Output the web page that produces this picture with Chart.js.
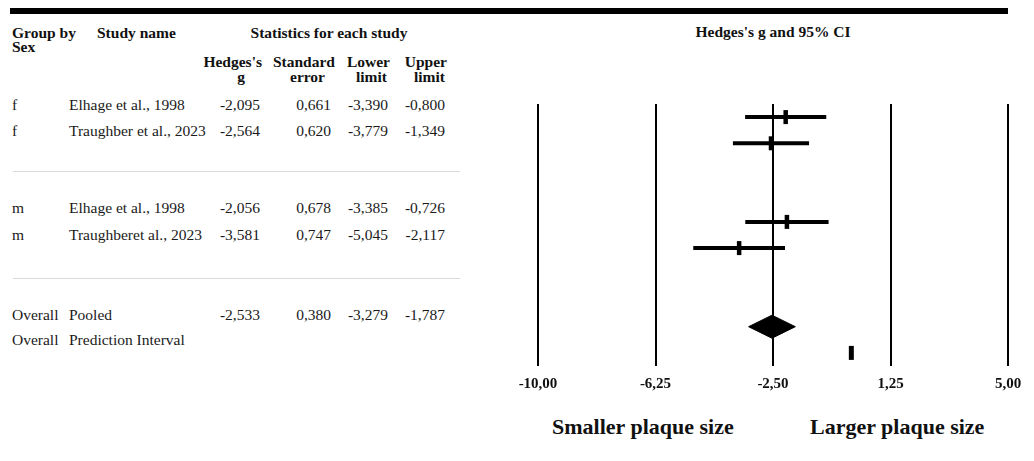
<!DOCTYPE html>
<html><head><meta charset="utf-8">
<script src="https://cdn.jsdelivr.net/npm/chart.js@4/dist/chart.umd.min.js"></script>
<style>
html,body{margin:0;padding:0;background:#fff;}
body{width:1034px;height:461px;position:relative;overflow:hidden;font-family:"Liberation Serif","Times New Roman",serif;color:#1a1a1a;}
.t{position:absolute;white-space:nowrap;font-size:15.5px;line-height:18px;height:18px;}
.b{font-weight:bold;color:#111;}
.sep{position:absolute;left:13px;width:447px;height:1px;background:#d9d9d9;}
#plotWrap{position:absolute;left:500px;top:90px;width:534px;height:306px;}
</style></head><body>
<div style="position:absolute;left:10px;top:8px;width:998px;height:6px;background:#000"></div>
<div id="table"></div>
<div class="sep" style="top:171px"></div>
<div class="sep" style="top:278px"></div>
<div id="plotWrap"><canvas id="c"></canvas></div>
<script>
// ---- data ----
const groups = ['f','f','m','m'];
const studyNames = ['Elhage et al., 1998','Traughber et al., 2023','Elhage et al., 1998','Traughberet al., 2023'];
const hedgesG = [-2.095,-2.564,-2.056,-3.581];
const standardError = [0.661,0.620,0.678,0.747];
const lowerLimit = [-3.390,-3.779,-3.385,-5.045];
const upperLimit = [-0.800,-1.349,-0.726,-2.117];
const pooledStats = [-2.533,0.380,-3.279,-1.787]; // g, SE, lower, upper
const predictionIntervalX = [0.0];
const xTickValues = [-10,-6.25,-2.5,1.25,5];
const xTickLabels = ['-10,00','-6,25','-2,50','1,25','5,00'];
const studyRows = [0,1,4,5];
const pooledRow = 8;
const predictionRow = 9;

// ---- table (HTML text) ----
const tbl = document.getElementById('table');
function put(text, x, yc, align, bold, size){
  const d = document.createElement('div');
  d.className = 't' + (bold ? ' b' : '');
  d.textContent = text;
  if (size) { d.style.fontSize = size + 'px'; d.style.lineHeight = Math.round(size*1.2)+'px'; d.style.height = Math.round(size*1.2)+'px'; }
  const h = size ? Math.round(size*1.2) : 18;
  d.style.top = (yc - h/2) + 'px';
  if (align === 'right') { d.style.left = (x - 300) + 'px'; d.style.width = '300px'; d.style.textAlign = 'right'; }
  else if (align === 'center') { d.style.left = (x - 300) + 'px'; d.style.width = '600px'; d.style.textAlign = 'center'; }
  else { d.style.left = x + 'px'; }
  tbl.appendChild(d);
}
const fmt = v => v.toFixed(3).replace('.', ',');
put('Group by', 12, 33, 'left', true);
put('Sex', 12, 47, 'left', true);
put('Study name', 97, 33, 'left', true);
put('Statistics for each study', 329, 33, 'center', true);
put("Hedges's", 262, 62, 'right', true); put('g', 245, 77, 'right', true);
put('Standard', 335, 62, 'right', true); put('error', 325, 77, 'right', true);
put('Lower', 390, 62, 'right', true); put('limit', 387, 77, 'right', true);
put('Upper', 447, 62, 'right', true); put('limit', 445, 77, 'right', true);
const rowY = [105, 131, 208, 235];
const colRight = [260, 331, 388, 445];
for (let i = 0; i < groups.length; i++) {
  put(groups[i], 12, rowY[i], 'left');
  put(studyNames[i], 69, rowY[i], 'left');
  [hedgesG[i], standardError[i], lowerLimit[i], upperLimit[i]].forEach((v, k) => put(fmt(v), colRight[k], rowY[i], 'right'));
}
put('Overall', 12, 315, 'left'); put('Pooled', 69, 315, 'left');
pooledStats.forEach((v, k) => put(fmt(v), colRight[k], 315, 'right'));
put('Overall', 12, 340, 'left'); put('Prediction Interval', 69, 340, 'left');
put("Hedges's g and 95% CI", 773, 32, 'center', true);
put('Smaller plaque size', 552, 427, 'left', true, 22);
put('Larger plaque size', 810, 427, 'left', true, 22);

// ---- forest plot ----
const datasets = [];
for (let i = 0; i < hedgesG.length; i++) {
  datasets.push({
    data: [{x: lowerLimit[i], y: studyRows[i]}, {x: upperLimit[i], y: studyRows[i]}],
    borderColor: '#000', borderWidth: 4, pointRadius: 0, showLine: true, fill: false, borderCapStyle: 'butt'
  });
}
datasets.push({
  data: hedgesG.map((g, i) => ({x: g, y: studyRows[i]})),
  showLine: false, pointStyle: 'line', pointRotation: 90, pointRadius: 7,
  pointBorderWidth: 4.5, pointBorderColor: '#000', pointBackgroundColor: '#000'
});
const diamondHalf = 0.44;
datasets.push({
  data: [{x: pooledStats[2], y: pooledRow}, {x: pooledStats[0], y: pooledRow - diamondHalf}, {x: pooledStats[3], y: pooledRow}],
  borderColor: '#000', backgroundColor: '#000', borderWidth: 1, pointRadius: 0, showLine: true, fill: '+1', tension: 0
});
datasets.push({
  data: [{x: pooledStats[2], y: pooledRow}, {x: pooledStats[0], y: pooledRow + diamondHalf}, {x: pooledStats[3], y: pooledRow}],
  borderColor: '#000', backgroundColor: '#000', borderWidth: 1, pointRadius: 0, showLine: true, fill: false, tension: 0
});
datasets.push({
  data: predictionIntervalX.map(x => ({x: x, y: predictionRow})),
  showLine: false, pointStyle: 'line', pointRotation: 90, pointRadius: 7,
  pointBorderWidth: 5, pointBorderColor: '#000'
});

new Chart(document.getElementById('c'), {
  type: 'line',
  data: {datasets},
  options: {
    responsive: true, maintainAspectRatio: false, animation: false,
    layout: {padding: {left: 38, right: 26, top: 14, bottom: 0}},
    plugins: {legend: {display: false}, tooltip: {enabled: false}},
    scales: {
      x: {
        type: 'linear', min: xTickValues[0], max: xTickValues[xTickValues.length - 1],
        afterBuildTicks: s => { s.ticks = xTickValues.map(v => ({value: v})); },
        afterFit: s => { s.height = 30; },
        grid: {color: '#000', lineWidth: 2, drawTicks: false},
        border: {display: false},
        ticks: {
          padding: 9, color: '#111', maxRotation: 0, autoSkip: false,
          font: {family: '"Liberation Serif", "Times New Roman", serif', size: 15, weight: 'bold'},
          callback: (v, i) => xTickLabels[i]
        }
      },
      y: {type: 'linear', reverse: true, min: -0.5, max: 9.5, display: false}
    }
  }
});
</script>
</body></html>
